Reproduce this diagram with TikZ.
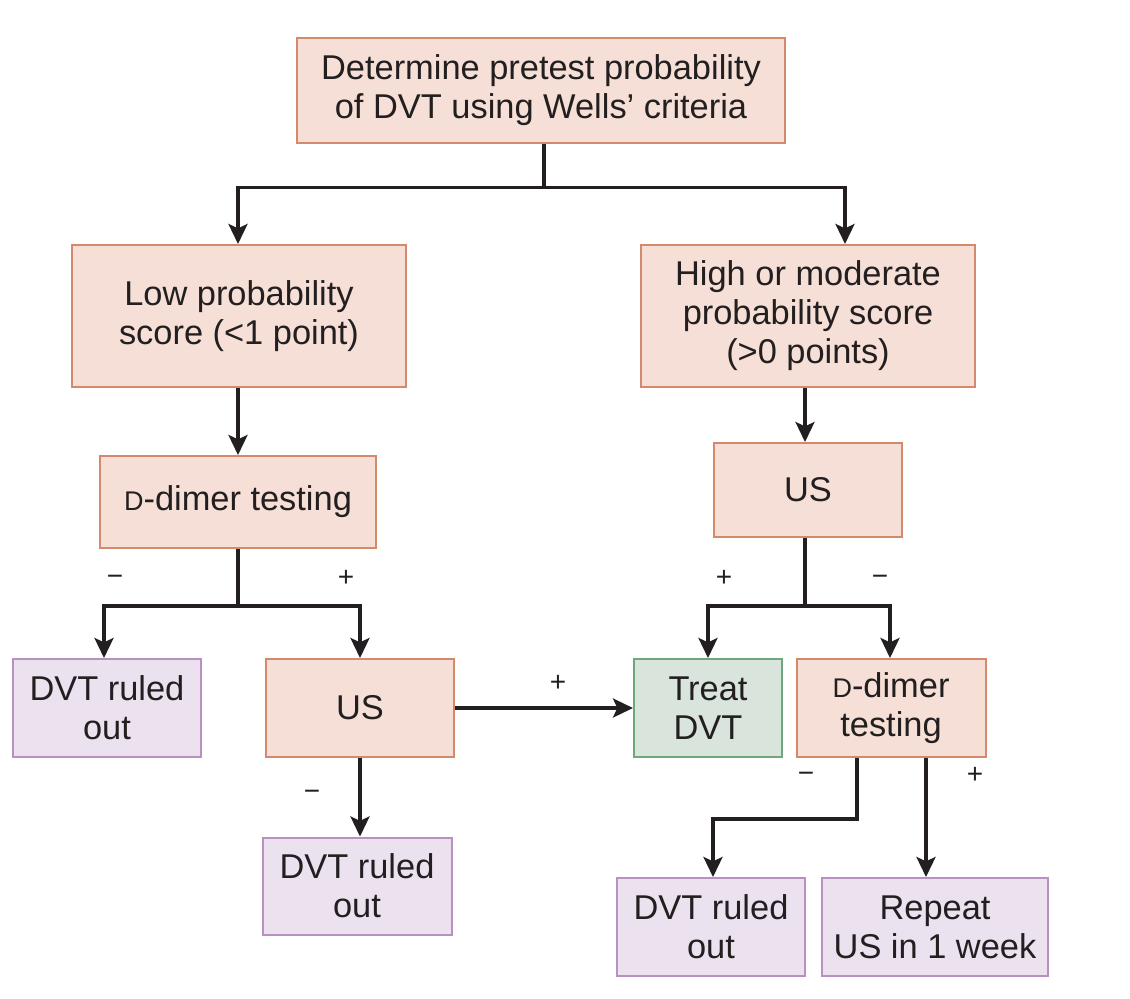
\documentclass[tikz,border=0pt]{standalone}
\usepackage{fontspec}
\setmainfont{Liberation Sans}
\usepackage{xcolor}
\usetikzlibrary{positioning,arrows.meta}
\definecolor{peach}{HTML}{F5DFD6}
\definecolor{peachline}{HTML}{D4896A}
\definecolor{lilac}{HTML}{ECE1EE}
\definecolor{lilacline}{HTML}{B890C4}
\definecolor{sage}{HTML}{D8E4DC}
\definecolor{sageline}{HTML}{6FA67E}
\definecolor{ink}{HTML}{231F20}
\newcommand{\smD}{{\fontsize{13.5}{13.5}\selectfont D}}
\tikzset{
  probbox/.style ={draw=peachline, fill=peach, line width=1pt, text=ink,
                   font=\fontsize{17.2}{19.5}\selectfont, align=center, inner sep=2pt},
  outbox/.style  ={draw=lilacline, fill=lilac, line width=1pt, text=ink,
                   font=\fontsize{17.2}{19.5}\selectfont, align=center, inner sep=2pt},
  treatbox/.style={draw=sageline, fill=sage, line width=1pt, text=ink,
                   font=\fontsize{17.2}{19.5}\selectfont, align=center, inner sep=2pt},
  flowarr/.style ={-{Stealth[length=10pt,width=9.5pt,inset=2.2pt]}, line width=1.8pt, draw=ink},
  signlbl/.style ={font=\fontsize{14}{14}\selectfont, text=ink, inner sep=0pt},
}
\begin{document}
\begin{tikzpicture}[x=0.5pt,y=-0.5pt]
\useasboundingbox (0,0) rectangle (1130,998);
\node[probbox, minimum width=244pt, minimum height=52.5pt] (wells) at (541,90) {Determine pretest probability\\of DVT using Wells' criteria};
\node[probbox, minimum width=167pt, minimum height=71pt] (low) at (239,316) {Low probability\\score (<1 point)};
\node[probbox, minimum width=167pt, minimum height=71pt] (high) at (808,316) {High or moderate\\probability score\\(>0 points)};
% left branch
\node[probbox, minimum width=138pt, minimum height=46pt] (dimA) at (238,502) {\smD-dimer testing};
\node[outbox, minimum width=94pt, minimum height=49pt] (outA) at (107,708) {DVT ruled\\out};
\node[probbox, minimum width=94pt, minimum height=49pt] (usA) at (360,708) {US};
\node[outbox, minimum width=94.5pt, minimum height=48.5pt] (outB) at (357,886) {DVT ruled\\out};
% right branch
\node[probbox, minimum width=94pt, minimum height=47pt] (usB) at (808,490) {US};
\node[treatbox, minimum width=74pt, minimum height=49pt] (treat) at (708,708) {Treat\\DVT};
\node[probbox, minimum width=94.5pt, minimum height=49pt] (dimB) at (891,708) {\smD-dimer\\testing};
\node[outbox, minimum width=94pt, minimum height=49pt] (outC) at (711,927) {DVT ruled\\out};
\node[outbox, minimum width=113pt, minimum height=49pt] (repeat) at (935,927) {Repeat\\US in 1 week};
% connectors
\draw[flowarr] ([xshift=1.5pt]wells.south) -- ++(0,44) -| ([xshift=-0.5pt]low.north);
\draw[flowarr] ([xshift=1.5pt]wells.south) -- ++(0,44) -| ([xshift=18.5pt]high.north);
\draw[flowarr] ([xshift=-0.5pt]low.south) -- (dimA);
\draw[flowarr] ([xshift=-1.5pt]high.south) -- ([xshift=-1.5pt]usB.north);
\draw[flowarr] (dimA.south) -- ++(0,57) -| ([xshift=-1.5pt]outA.north);
\draw[flowarr] (dimA.south) -- ++(0,57) -| (usA.north);
\draw[flowarr] ([xshift=-1.5pt]usB.south) -- ++(0,68) -| (treat.north);
\draw[flowarr] ([xshift=-1.5pt]usB.south) -- ++(0,68) -| ([xshift=-0.5pt]dimB.north);
\draw[flowarr] (usA) -- (treat);
\draw[flowarr] (usA) -- ([xshift=1.5pt]outB.north);
\draw[flowarr] ([xshift=-17pt]dimB.south) -- ++(0,61) -| ([xshift=1pt]outC.north);
\draw[flowarr] ([xshift=17.5pt]dimB.south) -- ([xshift=-4.5pt]repeat.north);
% signs
\node[signlbl] (s1) at (115,580) {−};
\node[signlbl] (s2) at (346,578) {+};
\node[signlbl] (s3) at (724,578) {+};
\node[signlbl] (s4) at (880,580) {−};
\node[signlbl] (s5) at (558,683) {+};
\node[signlbl] (s6) at (312,795) {−};
\node[signlbl] (s7) at (806,777) {−};
\node[signlbl] (s8) at (975,775) {+};
\end{tikzpicture}
\end{document}
